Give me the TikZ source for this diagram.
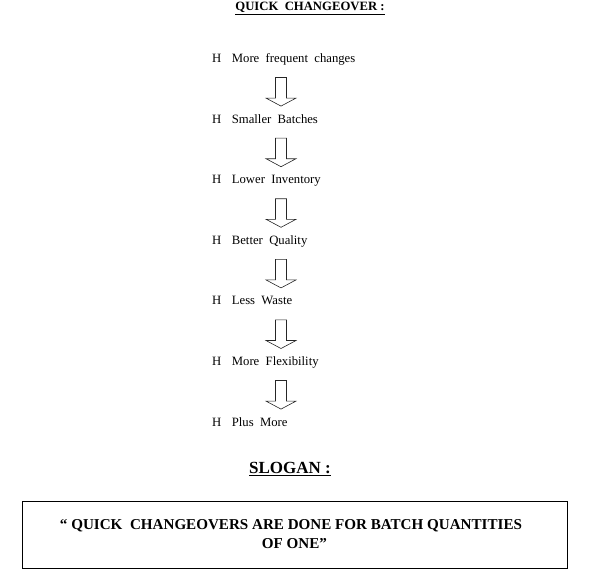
\documentclass[tikz,border=0pt]{standalone}
\usepackage{fontspec}
\setmainfont{Liberation Serif}
\usepackage{tikz}
\usetikzlibrary{positioning,calc}
\tikzset{
  heading/.style ={font=\fontsize{12.7pt}{15pt}\selectfont\bfseries, inner sep=1pt},
  slogan/.style  ={font=\fontsize{17pt}{20pt}\selectfont\bfseries, inner sep=1pt},
  item/.style    ={font=\fontsize{12.7pt}{15pt}\selectfont, inner sep=0pt,
                   text height=9pt, text depth=3pt},
  hollow/.style  ={draw=black!85, fill=white, line width=0.6pt, line join=miter},
  quote/.style   ={rectangle, draw=black, line width=0.8pt, align=center,
                   font=\fontsize{15.1pt}{19pt}\selectfont\bfseries,
                   minimum width=545pt, minimum height=67pt},
}
% hollow block arrow from one item down to the next
\newcommand{\flowarrow}[2]{%
  \draw[hollow] let \p1=($(#1.west -| axis)+(0,-18)$), \p2=($(#2.west -| axis)+(0,14)$) in
    (\x1-5.5,\y1) -- (\x1+5.5,\y1) -- (\x1+5.5,\y2+8) -- (\x1+15,\y2+8)
    -- (\x2,\y2) -- (\x1-15,\y2+8) -- (\x1-5.5,\y2+8) -- cycle;}

\begin{document}
\begin{tikzpicture}[x=1pt, y=1pt, node distance=60.6pt]
  \useasboundingbox (0,0) rectangle (601,-582);
  \coordinate (axis) at (281,0);
  \node[heading] (title) at (310,-8.5) {\underline{QUICK\ \ CHANGEOVER :}};
  \node[item, anchor=west]                   (i1) at (212,-59.5) {H\hspace{10.5pt}More\ \ frequent\ \ changes};
  \node[item, below=of i1.west, anchor=west] (i2) {H\hspace{10.5pt}Smaller\ \ Batches};
  \node[item, below=of i2.west, anchor=west] (i3) {H\hspace{10.5pt}Lower\ \ Inventory};
  \node[item, below=of i3.west, anchor=west] (i4) {H\hspace{10.5pt}Better\ \ Quality};
  \node[item, below=of i4.west, anchor=west] (i5) {H\hspace{10.5pt}Less\ \ Waste};
  \node[item, below=of i5.west, anchor=west] (i6) {H\hspace{10.5pt}More\ \ Flexibility};
  \node[item, below=of i6.west, anchor=west] (i7) {H\hspace{10.5pt}Plus\ \ More};
  \flowarrow{i1}{i2}
  \flowarrow{i2}{i3}
  \flowarrow{i3}{i4}
  \flowarrow{i4}{i5}
  \flowarrow{i5}{i6}
  \flowarrow{i6}{i7}
  \node[slogan] (slog) at (290,-469) {\underline{SLOGAN :}};
  \node[quote]  (box)  at (294.5,-534.5) {\hspace*{-7pt}`` QUICK\ \ CHANGEOVERS ARE DONE FOR BATCH QUANTITIES\\OF ONE''};
\end{tikzpicture}
\end{document}
